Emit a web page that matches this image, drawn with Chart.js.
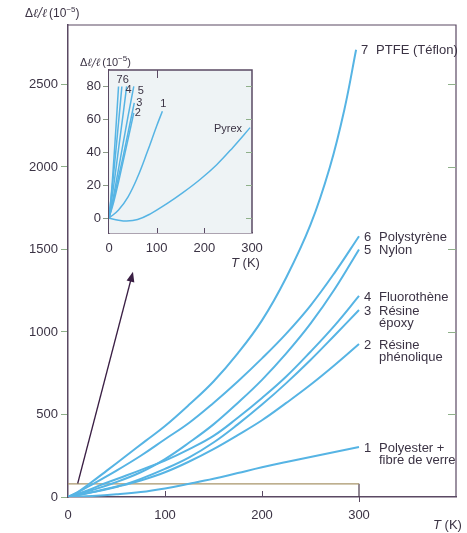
<!DOCTYPE html>
<html>
<head>
<meta charset="utf-8">
<script src="https://cdn.jsdelivr.net/npm/chart.js@4.4.1/dist/chart.umd.min.js"></script>
<style>
  html, body { margin: 0; padding: 0; background: #fff; }
  #wrap { position: relative; width: 467px; height: 533px; }
  #mainChart { position: absolute; left: 0; top: 0; }
  #insetChart { position: absolute; left: 70px; top: 45px; }
</style>
</head>
<body>
<div id="wrap">
  <canvas id="mainChart" width="467" height="533"></canvas>
  <canvas id="insetChart" width="205" height="230"></canvas>
</div>
<script>
// Thermal expansion Δl/l (10^-5) against temperature T (K)
const polyesterT = [0, 25, 50, 75, 100, 125, 150, 175, 200, 225, 250, 275, 300];
const polyesterV = [0, 6, 16, 30, 52, 80, 110, 145, 180, 212, 243, 273, 303];
const phenolT = [0, 25, 52, 75, 100, 125, 150, 175, 200, 225, 250, 275, 300];
const phenolV = [0, 28, 64, 100, 150, 215, 290, 375, 465, 570, 680, 800, 927];
const epoxyT = [0, 25, 55, 75, 100, 125, 150, 175, 200, 225, 250, 275, 300];
const epoxyV = [0, 30, 71, 110, 170, 240, 330, 440, 560, 690, 830, 980, 1133];
const fluoroT = [0, 20, 37, 60, 80, 100, 125, 150, 175, 200, 225, 250, 275, 300];
const fluoroV = [0, 40, 80, 130, 175, 220, 290, 370, 480, 600, 730, 880, 1040, 1218];
const nylonT = [0, 25, 45, 75, 100, 125, 150, 175, 200, 225, 250, 275, 300];
const nylonV = [0, 42, 80, 150, 230, 330, 440, 570, 710, 870, 1050, 1260, 1500];
const polystyT = [0, 10, 26, 50, 75, 100, 125, 150, 175, 200, 225, 250, 275, 300];
const polystyV = [0, 28, 80, 160, 250, 350, 450, 570, 700, 840, 990, 1160, 1360, 1580];
const ptfeT = [0, 10, 22, 40, 60, 80, 100, 125, 150, 175, 200, 225, 250, 270, 285, 297];
const ptfeV = [0, 30, 80, 160, 250, 340, 430, 560, 700, 870, 1070, 1330, 1650, 2000, 2350, 2710];

const materialNums = ['1', '2', '3', '4', '5', '6', '7'];
const materialNames = [
  ['Polyester +', 'fibre de verre'],
  ['Résine', 'phénolique'],
  ['Résine', 'époxy'],
  ['Fluorothène'],
  ['Nylon'],
  ['Polystyrène'],
  ['PTFE (Téflon)']
];

// low-temperature detail (0–300 K, up to 80 × 10^-5)
const inPolyesterT = [0, 20, 40, 60, 80, 100, 112];
const inPolyesterV = [0, 5, 13, 25, 40, 56, 65];
const inPhenolT = [0, 10, 20, 30, 40, 52];
const inPhenolV = [0, 10, 22, 35, 48, 64];
const inEpoxyT = [0, 10, 20, 30, 40, 53];
const inEpoxyV = [0, 12, 25, 38, 52, 70];
const inFluoroT = [0, 10, 20, 30, 37];
const inFluoroV = [0, 20, 42, 64, 80];
const inNylonT = [0, 10, 20, 30, 40, 52];
const inNylonV = [0, 14, 30, 46, 62, 80];
const inPolystyT = [0, 10, 20, 27];
const inPolystyV = [0, 28, 58, 80];
const inPtfeT = [0, 5, 10, 15, 20];
const inPtfeV = [0, 15, 35, 57, 80];
const pyrexT = [0, 20, 37, 60, 86, 120, 155, 191, 226, 260, 296];
const pyrexV = [0, -1.2, -1.7, -0.8, 2.5, 8.5, 15.5, 23.5, 32.5, 43, 55];

const mainTicksX = [0, 100, 200, 300];
const mainTicksY = [0, 500, 1000, 1500, 2000, 2500];
const insetTicksX = [0, 100, 200, 300];
const insetTicksY = [0, 20, 40, 60, 80];

// outline of the enlarged region and the pointer to the inset
const zoomBoxT = [0, 300];
const zoomBoxV = [0, 80];
const arrowFrom = [10, 82];
const arrowTo = [67, 1365];

const curveColor = '#56b4e4';
const ink = '#3b3344';
const frameColor = '#5a4963';
const tickGreen = '#8fb08a';
const FONT = '"Liberation Sans", Arial, Helvetica, sans-serif';

function pts(ts, vs) {
  return ts.map((t, i) => ({ x: t, y: vs[i] }));
}

function curve(ts, vs, width) {
  return {
    data: pts(ts, vs),
    borderColor: curveColor,
    borderWidth: width,
    pointRadius: 0,
    tension: 0.4,
    fill: false
  };
}

// Δl/l (10^-5) with a raised exponent
function drawQuantity(ctx, x, y, size) {
  ctx.save();
  ctx.fillStyle = ink;
  ctx.textAlign = 'left';
  ctx.textBaseline = 'alphabetic';
  let cx = x;
  ctx.font = size + 'px ' + FONT;
  ctx.fillText('Δ', cx, y);
  cx += ctx.measureText('Δ').width;
  ctx.font = 'italic ' + size + 'px "DejaVu Serif", serif';
  ctx.fillText('ℓ/ℓ', cx, y);
  cx += ctx.measureText('ℓ/ℓ').width + 2;
  ctx.font = size + 'px ' + FONT;
  ctx.fillText('(10', cx, y);
  cx += ctx.measureText('(10').width;
  ctx.font = Math.round(size * 0.7) + 'px ' + FONT;
  ctx.fillText('−5', cx, y - size * 0.42);
  cx += ctx.measureText('−5').width;
  ctx.font = size + 'px ' + FONT;
  ctx.fillText(')', cx, y);
  ctx.restore();
}

function drawTemp(ctx, x, y, size) {
  ctx.save();
  ctx.fillStyle = ink;
  ctx.textBaseline = 'alphabetic';
  ctx.textAlign = 'left';
  ctx.font = 'italic ' + size + 'px ' + FONT;
  ctx.fillText('T', x, y);
  const w = ctx.measureText('T').width;
  ctx.font = size + 'px ' + FONT;
  ctx.fillText(' (K)', x + w, y);
  ctx.restore();
}

function fixedTicks(list) {
  return s => { s.ticks = list.map(v => ({ value: v })); };
}

const plainNumber = v => String(v);

const mainDecor = {
  id: 'mainDecor',
  afterDatasetsDraw(chart) {
    const { ctx, chartArea: a, scales: { x, y } } = chart;
    ctx.save();
    ctx.strokeStyle = frameColor;
    ctx.lineWidth = 1.2;
    ctx.beginPath();
    ctx.moveTo(a.left, a.top);
    ctx.lineTo(a.right, a.top);
    ctx.lineTo(a.right, a.bottom);
    ctx.stroke();

    // inward ticks on the right edge and bottom
    ctx.strokeStyle = tickGreen;
    ctx.lineWidth = 1;
    ctx.beginPath();
    mainTicksY.slice(1).forEach(v => {
      const py = Math.round(y.getPixelForValue(v)) + 0.5;
      ctx.moveTo(a.right - 8, py);
      ctx.lineTo(a.right, py);
    });
    ctx.stroke();
    ctx.strokeStyle = frameColor;
    ctx.beginPath();
    mainTicksX.slice(1, 3).forEach(v => {
      const px = Math.round(x.getPixelForValue(v)) + 0.5;
      ctx.moveTo(px, a.bottom);
      ctx.lineTo(px, a.bottom - 6);
    });
    const p300 = Math.round(x.getPixelForValue(zoomBoxT[1])) + 0.5;
    ctx.moveTo(p300, a.bottom);
    ctx.lineTo(p300, a.bottom + 5);
    ctx.stroke();

    // pointer from the boxed region to the inset
    const x0 = x.getPixelForValue(arrowFrom[0]), y0 = y.getPixelForValue(arrowFrom[1]);
    const x1 = x.getPixelForValue(arrowTo[0]), y1 = y.getPixelForValue(arrowTo[1]);
    const ang = Math.atan2(y1 - y0, x1 - x0);
    ctx.strokeStyle = '#3a1f44';
    ctx.fillStyle = '#3a1f44';
    ctx.lineWidth = 1.3;
    ctx.beginPath();
    ctx.moveTo(x0, y0);
    ctx.lineTo(x1 - 6 * Math.cos(ang), y1 - 6 * Math.sin(ang));
    ctx.stroke();
    ctx.beginPath();
    ctx.moveTo(x1, y1);
    ctx.lineTo(x1 - 10 * Math.cos(ang) + 4 * Math.sin(ang), y1 - 10 * Math.sin(ang) - 4 * Math.cos(ang));
    ctx.lineTo(x1 - 10 * Math.cos(ang) - 4 * Math.sin(ang), y1 - 10 * Math.sin(ang) + 4 * Math.cos(ang));
    ctx.closePath();
    ctx.fill();

    // material labels at the end of each curve
    ctx.fillStyle = ink;
    ctx.font = '13px ' + FONT;
    ctx.textAlign = 'left';
    ctx.textBaseline = 'middle';
    for (let i = 0; i < 7; i++) {
      const meta = chart.getDatasetMeta(i);
      const last = meta.data[meta.data.length - 1];
      const ex = last.x, ey = last.y + 1;
      ctx.fillText(materialNums[i], ex + 5, ey);
      materialNames[i].forEach((line, k) => ctx.fillText(line, ex + 20, ey + k * 12.5));
    }

    drawQuantity(ctx, 25, 17, 12);
    drawTemp(ctx, 433, 529, 13);
    ctx.restore();
  }
};

const insetDecor = {
  id: 'insetDecor',
  beforeDatasetsDraw(chart) {
    const { ctx, chartArea: a } = chart;
    ctx.save();
    ctx.fillStyle = '#eef3f5';
    ctx.fillRect(a.left, a.top, a.right - a.left, a.bottom - a.top);
    ctx.restore();
  },
  afterDatasetsDraw(chart) {
    const { ctx, chartArea: a, scales: { x, y } } = chart;
    ctx.save();
    ctx.strokeStyle = frameColor;
    ctx.lineWidth = 1.5;
    ctx.beginPath();
    ctx.moveTo(a.left, a.top);
    ctx.lineTo(a.right, a.top);
    ctx.lineTo(a.right, a.bottom);
    ctx.stroke();

    ctx.lineWidth = 1;
    ctx.strokeStyle = tickGreen;
    ctx.beginPath();
    insetTicksY.forEach(v => {
      const py = Math.round(y.getPixelForValue(v)) + 0.5;
      ctx.moveTo(a.right - 6, py);
      ctx.lineTo(a.right, py);
    });
    ctx.stroke();
    ctx.strokeStyle = frameColor;
    ctx.beginPath();
    insetTicksX.slice(1, 3).forEach(v => {
      const px = Math.round(x.getPixelForValue(v)) + 0.5;
      ctx.moveTo(px, a.bottom);
      ctx.lineTo(px, a.bottom - 5);
    });
    const pTop = Math.round(x.getPixelForValue(100)) + 0.5;
    ctx.moveTo(pTop, a.top);
    ctx.lineTo(pTop, a.top + 8);
    ctx.stroke();

    // curve numbers near the curve ends
    const offsets = [[1, -7], [4, 0], [5, 0], [2, 4], [7, 5], [4, -6], [1, -6]];
    ctx.fillStyle = ink;
    ctx.font = '11px ' + FONT;
    ctx.textAlign = 'center';
    ctx.textBaseline = 'middle';
    for (let i = 0; i < 7; i++) {
      const meta = chart.getDatasetMeta(i);
      const last = meta.data[meta.data.length - 1];
      ctx.fillText(materialNums[i], last.x + offsets[i][0], last.y + offsets[i][1]);
    }
    const pm = chart.getDatasetMeta(7);
    const pl = pm.data[pm.data.length - 1];
    ctx.textAlign = 'right';
    ctx.fillText('Pyrex', pl.x - 8, pl.y + 1);

    drawQuantity(ctx, 10, 21, 11);
    drawTemp(ctx, 161, 222, 13);
    ctx.restore();
  }
};

new Chart(document.getElementById('mainChart'), {
  type: 'line',
  data: {
    datasets: [
      curve(polyesterT, polyesterV, 2),
      curve(phenolT, phenolV, 2),
      curve(epoxyT, epoxyV, 2),
      curve(fluoroT, fluoroV, 2),
      curve(nylonT, nylonV, 2),
      curve(polystyT, polystyV, 2),
      curve(ptfeT, ptfeV, 2),
      {
        data: [{ x: zoomBoxT[0], y: zoomBoxV[1] }, { x: zoomBoxT[1], y: zoomBoxV[1] }],
        borderColor: '#a8956a',
        borderWidth: 1.3,
        pointRadius: 0
      },
      {
        data: [{ x: zoomBoxT[1], y: zoomBoxV[1] }, { x: zoomBoxT[1], y: zoomBoxV[0] }],
        borderColor: '#4a3a4e',
        borderWidth: 1.2,
        pointRadius: 0
      }
    ]
  },
  options: {
    responsive: false,
    animation: false,
    layout: { padding: { top: 25, right: 11, left: 0, bottom: 0 } },
    plugins: { legend: { display: false }, tooltip: { enabled: false } },
    scales: {
      x: {
        type: 'linear',
        min: 0,
        max: 400,
        afterFit: s => { s.height = 36; },
        afterBuildTicks: fixedTicks(mainTicksX),
        border: { color: frameColor, width: 1.5 },
        grid: { display: false, drawTicks: false },
        ticks: {
          padding: 11,
          color: ink,
          font: { family: FONT, size: 13 },
          callback: plainNumber
        }
      },
      y: {
        min: 0,
        max: 2860,
        afterFit: s => { s.width = 68; },
        afterBuildTicks: fixedTicks(mainTicksY),
        border: { color: frameColor, width: 1.5 },
        grid: { drawOnChartArea: false, drawTicks: true, tickLength: 7, color: tickGreen },
        ticks: {
          padding: 3,
          color: ink,
          font: { family: FONT, size: 13 },
          callback: plainNumber
        }
      }
    }
  },
  plugins: [mainDecor]
});

new Chart(document.getElementById('insetChart'), {
  type: 'line',
  data: {
    datasets: [
      curve(inPolyesterT, inPolyesterV, 1.5),
      curve(inPhenolT, inPhenolV, 1.5),
      curve(inEpoxyT, inEpoxyV, 1.5),
      curve(inFluoroT, inFluoroV, 1.5),
      curve(inNylonT, inNylonV, 1.5),
      curve(inPolystyT, inPolystyV, 1.5),
      curve(inPtfeT, inPtfeV, 1.5),
      curve(pyrexT, pyrexV, 1.5)
    ]
  },
  options: {
    responsive: false,
    animation: false,
    layout: { padding: { top: 25, right: 23, left: 0, bottom: 0 } },
    plugins: { legend: { display: false }, tooltip: { enabled: false } },
    scales: {
      x: {
        type: 'linear',
        min: 0,
        max: 300,
        afterFit: s => { s.height = 42; },
        afterBuildTicks: fixedTicks(insetTicksX),
        border: { color: frameColor, width: 1.5 },
        grid: { display: false, drawTicks: false },
        ticks: {
          padding: 8,
          color: ink,
          font: { family: FONT, size: 13 },
          callback: plainNumber
        }
      },
      y: {
        min: -9,
        max: 90,
        afterFit: s => { s.width = 39; },
        afterBuildTicks: fixedTicks(insetTicksY),
        border: { color: frameColor, width: 1.5 },
        grid: { drawOnChartArea: false, drawTicks: true, tickLength: 6, color: '#8c9a88' },
        ticks: {
          padding: 2,
          color: ink,
          font: { family: FONT, size: 13 },
          callback: plainNumber
        }
      }
    }
  },
  plugins: [insetDecor]
});
</script>
</body>
</html>
